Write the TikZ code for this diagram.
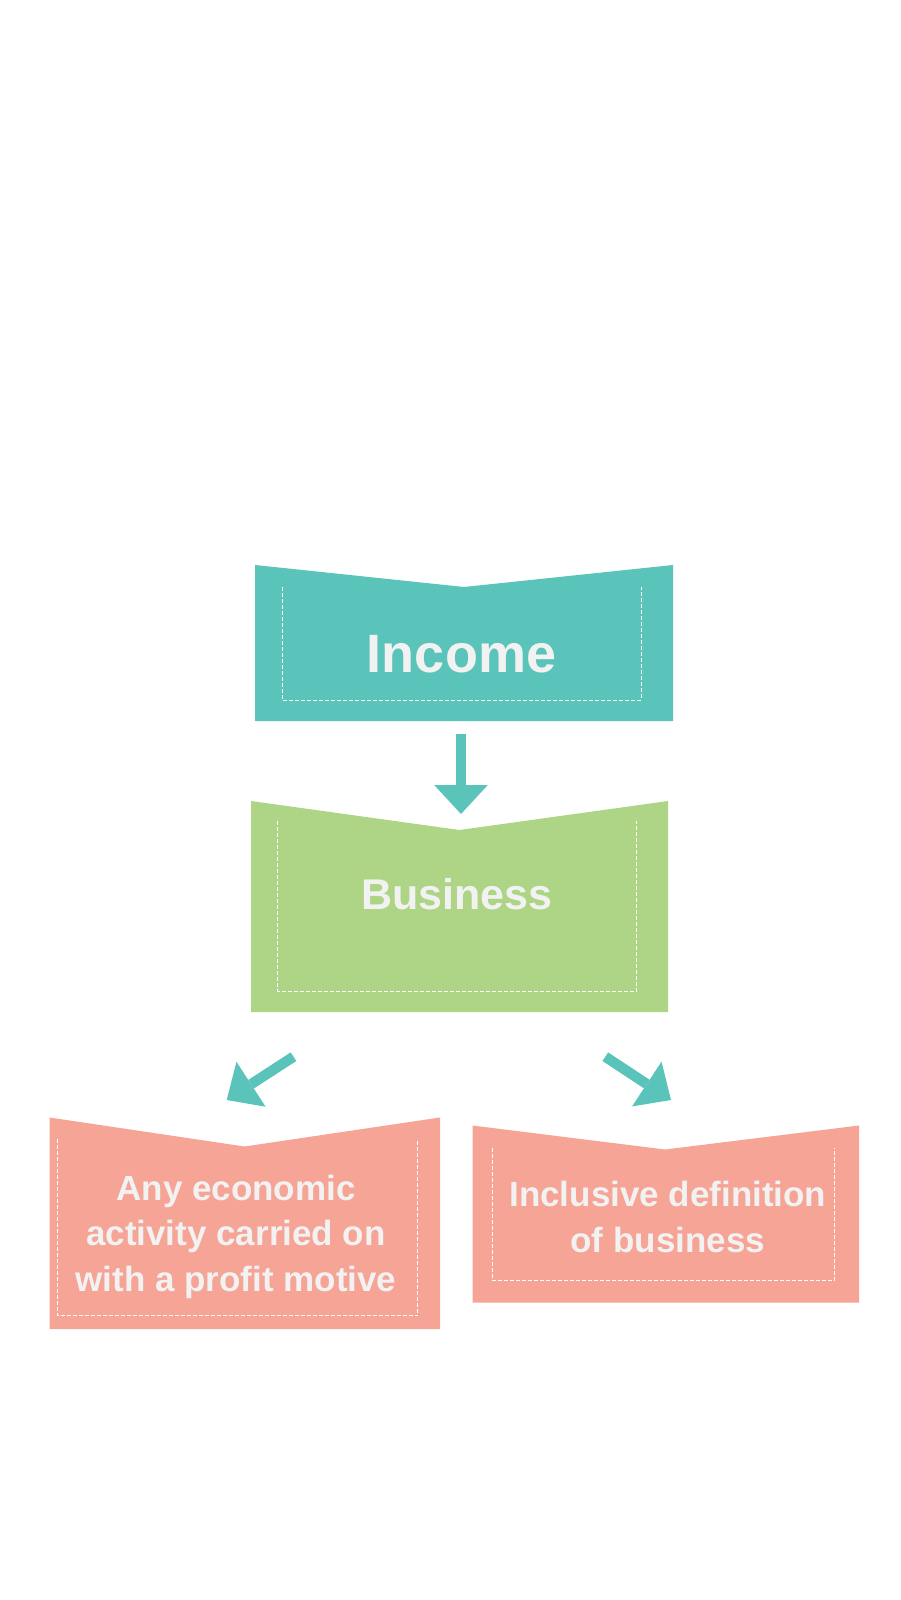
\documentclass[tikz,border=0pt]{standalone}
\usepackage{fontspec}
\setmainfont{Liberation Sans}
\usetikzlibrary{arrows.meta}
\definecolor{tealA}{HTML}{5BC4BA}
\definecolor{greenA}{HTML}{AED585}
\definecolor{pinkA}{HTML}{F6A496}
\definecolor{txtA}{HTML}{F2F2F2}
\begin{document}
\begin{tikzpicture}[x=0.5pt,y=-0.5pt,
  lbl/.style={text=txtA, align=center, inner sep=0pt},
  guide/.style={draw=white, line width=0.5pt, dash pattern=on 2pt off 1pt},
  flow/.style={draw=tealA, line width=5.15pt, -{Triangle[length=14.5pt,width=26.8pt,line width=0pt,fill=tealA]}}]
\useasboundingbox (0,0) rectangle (900,1600);
\fill[white] (0,0) rectangle (900,1600);
% Income
\fill[tealA] (255,565) -- (464,587) -- (673,565) -- (673,721) -- (255,721) -- cycle;
\draw[guide] (282,587) -- (282,700) -- (641,700) -- (641,587);
\node[lbl, font=\bfseries\fontsize{27}{32}\selectfont] (income) at (461.5,654) {Income};
% Business
\fill[greenA] (251,801) -- (459.5,830) -- (668,801) -- (668,1012) -- (251,1012) -- cycle;
\draw[guide] (277.5,821) -- (277.5,991) -- (636.5,991) -- (636.5,821);
\node[lbl, font=\bfseries\fontsize{21.5}{26}\selectfont] (business) at (457,894) {Business};
% Left pink
\fill[pinkA] (49.5,1117.5) -- (244.5,1146.5) -- (440,1117.5) -- (440,1329) -- (49.5,1329) -- cycle;
\draw[guide] (57.5,1138.5) -- (57.5,1315.5) -- (417.5,1315.5) -- (417.5,1138.5);
\node[lbl, font=\bfseries\fontsize{17.5}{22.75}\selectfont] (anyeco) at (236,1236.6) {Any economic\\activity carried on\\with a profit motive};
% Right pink
\fill[pinkA] (472.5,1125.5) -- (665,1149.5) -- (859,1125.5) -- (859,1302.5) -- (472.5,1302.5) -- cycle;
\draw[guide] (492.5,1147.5) -- (492.5,1280.5) -- (834,1280.5) -- (834,1147.5);
\node[lbl, font=\bfseries\fontsize{17.5}{23}\selectfont] (inclusive) at (667.8,1217) {Inclusive definition\\of business};
% Arrows
\coordinate (a0) at (461,734);
\coordinate (a1) at (461,814);
\draw[flow] (a0) -- (a1);
\coordinate (l0) at (293.5,1056.7);
\coordinate (l1) at (226.7,1100);
\draw[flow] (l0) -- (l1);
\coordinate (r0) at (605.3,1056.7);
\coordinate (r1) at (671,1100);
\draw[flow] (r0) -- (r1);
\end{tikzpicture}
\end{document}
